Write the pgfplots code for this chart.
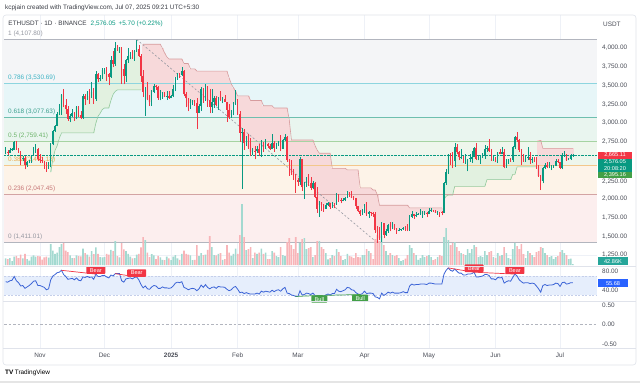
\documentclass[border=0pt]{standalone}
\usepackage{pgfplots}
\pgfplotsset{compat=1.18}
\usepackage{pgfplotstable}
\usepackage{fontspec}
\setmainfont{Liberation Sans}
\definecolor{up}{HTML}{089981}
\definecolor{dn}{HTML}{F23645}
\definecolor{upv}{HTML}{A3D9D0}
\definecolor{dnv}{HTML}{F8B4B8}
\definecolor{stg}{HTML}{E2F1E0}
\definecolor{str}{HTML}{F7D9DA}
\definecolor{stgl}{HTML}{92C99B}
\definecolor{strl}{HTML}{D69C9E}
\definecolor{rsib}{HTML}{3B63D6}
\definecolor{rsiband}{HTML}{E6EEFC}
\definecolor{rsibl}{HTML}{C5CFEA}
\definecolor{gridc}{HTML}{EEF1F7}
\definecolor{txt}{HTML}{4A4D57}
\definecolor{frame}{HTML}{E0E3EB}
\definecolor{fbA}{HTML}{F4F5F7}
\definecolor{fbB}{HTML}{E7F6F8}
\definecolor{fbC}{HTML}{E9F5EF}
\definecolor{fbD}{HTML}{EEF6EC}
\definecolor{fbE}{HTML}{FDF3E8}
\definecolor{fbF}{HTML}{FCEEEE}
\definecolor{flA}{HTML}{B2B5BE}
\definecolor{flB}{HTML}{8DD5DF}
\definecolor{flC}{HTML}{6EBFAF}
\definecolor{flD}{HTML}{A6D3A2}
\definecolor{flE}{HTML}{F3C78B}
\definecolor{flF}{HTML}{D3A3A3}
\definecolor{tA}{HTML}{9598A1}
\definecolor{tB}{HTML}{3DB3C4}
\definecolor{tC}{HTML}{3A9F8C}
\definecolor{tD}{HTML}{6DB46B}
\definecolor{tE}{HTML}{EDAA4E}
\definecolor{tF}{HTML}{C77676}
\definecolor{bxg}{HTML}{43A047}
\definecolor{bxb}{HTML}{2962FF}
\definecolor{bxv}{HTML}{26A69A}
\definecolor{hdr}{HTML}{3A3D45}
\newcommand\tvf{\fontsize{6.4bp}{7.6bp}\selectfont}
\newcommand\tvs{\fontsize{5.6bp}{6.6bp}\selectfont}

\pgfplotstableread{
d o h l c v r st dir
-16 2606 2689 2586 2611 330 58 0 0
-15 2611 2642 2578 2604 290 57 0 0
-14 2604 2675 2597 2642 340 60 0 0
-13 2642 2665 2630 2648 200 61 0 0
-12 2648 2760 2641 2747 420 69 0 0
-11 2747 2769 2645 2667 460 60 0 0
-10 2667 2673 2604 2621 350 56 0 0
-9 2621 2625 2438 2524 520 49 0 0
-8 2524 2557 2493 2535 330 50 0 0
-7 2535 2562 2386 2440 560 44 0 0
-6 2440 2491 2423 2478 300 47 0 0
-5 2478 2510 2466 2508 220 50 0 0
-4 2508 2575 2468 2567 420 54 0 0
-3 2567 2680 2566 2638 480 59 0 0
-2 2638 2722 2603 2659 420 60 0 0
-1 2659 2666 2502 2518 450 50 0 0
0 2518 2588 2470 2513 430 50 0 0
1 2513 2548 2469 2491 270 48 0 0
2 2491 2495 2388 2458 380 46 0 0
3 2458 2486 2357 2397 420 41 0 0
4 2397 2478 2392 2421 370 43 0 0
5 2421 2736 2414 2722 1050 62 2350 1
6 2722 2907 2704 2895 720 70 2520 1
7 2895 2976 2880 2962 560 73 2640 1
8 2962 3148 2955 3126 620 77 2700 1
9 3126 3249 3110 3183 900 78 2800 1
10 3183 3380 3113 3371 1050 82 2870 1
11 3371 3446 3212 3244 1100 73 2870 1
12 3244 3325 3122 3186 720 69 2870 1
13 3186 3228 3032 3058 640 63 2870 1
14 3058 3116 3009 3091 480 64 2870 1
15 3091 3185 3083 3132 350 65 2870 1
16 3132 3149 3031 3075 340 62 2870 1
17 3075 3220 3050 3209 480 66 2870 1
18 3209 3223 3075 3105 450 61 2870 1
19 3105 3160 3053 3072 430 60 2870 1
20 3072 3383 3052 3356 820 68 2870 1
21 3356 3382 3246 3326 600 67 2870 1
22 3326 3428 3304 3393 520 69 2870 1
23 3393 3447 3259 3361 420 67 2870 1
24 3361 3540 3339 3414 700 68 2870 1
25 3414 3469 3250 3325 540 63 2870 1
26 3325 3688 3297 3654 880 74 3000 1
27 3654 3663 3540 3582 560 69 3090 1
28 3582 3643 3554 3592 400 69 3130 1
29 3592 3736 3580 3703 380 71 3180 1
30 3703 3727 3647 3708 400 71 3200 1
31 3708 3748 3557 3646 560 68 3200 1
32 3646 3666 3500 3614 520 66 3200 1
33 3614 3890 3600 3837 760 72 3300 1
34 3837 3954 3740 3786 700 70 3380 1
35 3786 4080 3760 3998 1200 75 3420 1
36 3998 4030 3960 3997 440 75 3440 1
37 3997 4010 3935 4005 380 75 3440 1
38 4005 4015 3520 3712 1100 60 3440 1
39 3712 3784 3515 3630 780 57 3440 1
40 3630 3845 3550 3834 700 64 3440 1
41 3834 3995 3800 3884 560 65 3440 1
42 3884 3940 3845 3909 420 66 3440 1
43 3909 3963 3852 3871 330 64 3440 1
44 3871 3970 3830 3957 350 67 3440 1
45 3957 4107.8 3947 3987 520 68 3440 1
46 3987 4036 3880 3890 560 62 3440 1
47 3890 3920 3550 3624 880 52 3440 1
48 3624 3710 3345 3417 1400 45 4045 -1
49 3417 3485 3098 3478 1250 49 4045 -1
50 3478 3550 3300 3318 620 43 4045 -1
51 3318 3368 3225 3277 400 42 4045 -1
52 3277 3441 3225 3418 540 47 4045 -1
53 3418 3515 3395 3493 480 50 4045 -1
54 3493 3505 3440 3477 300 49 4045 -1
55 3477 3493 3310 3331 460 44 4045 -1
56 3331 3440 3300 3332 380 44 4045 -1
57 3332 3418 3325 3399 260 47 3990 -1
58 3399 3410 3340 3350 250 45 3930 -1
59 3350 3428 3310 3358 420 45 3880 -1
60 3358 3428 3320 3332 330 44 3850 -1
61 3332 3379 3328 3353 250 45 3850 -1
62 3353 3500 3345 3452 420 49 3850 -1
63 3452 3612 3425 3605 500 55 3850 -1
64 3605 3670 3575 3657 330 57 3850 -1
65 3657 3665 3601 3634 260 56 3850 -1
66 3634 3745 3620 3687 560 58 3850 -1
67 3687 3700 3355 3381 720 46 3790 -1
68 3381 3412 3207 3327 560 44 3790 -1
69 3327 3335 3156 3220 520 41 3790 -1
70 3220 3322 3190 3268 480 43 3720 -1
71 3268 3305 3234 3283 250 44 3720 -1
72 3283 3300 3230 3266 260 43 3720 -1
73 3266 3330 2920 3137 1000 39 3690 -1
74 3137 3258 3130 3224 450 43 3690 -1
75 3224 3475 3160 3451 600 51 3690 -1
76 3451 3461 3265 3308 500 46 3690 -1
77 3308 3525 3298 3474 520 52 3690 -1
78 3474 3494 3215 3306 760 46 3690 -1
79 3306 3449 3130 3215 1450 43 3690 -1
80 3215 3453 3140 3285 900 46 3690 -1
81 3285 3362 3205 3330 500 47 3690 -1
82 3330 3360 3222 3241 480 44 3690 -1
83 3241 3347 3180 3338 560 48 3690 -1
84 3338 3428 3290 3309 600 47 3690 -1
85 3309 3348 3260 3318 260 47 3690 -1
86 3318 3371 3280 3285 300 46 3690 -1
87 3285 3285 3020 3180 1000 42 3690 -1
88 3180 3255 3055 3076 620 39 3600 -1
89 3076 3170 3065 3113 460 41 3520 -1
90 3113 3283 3103 3249 560 46 3470 -1
91 3249 3437 3246 3300 820 48 3420 -1
92 3300 3320 3105 3120 560 42 3360 -1
93 3120 3160 2755 2870 1500 35 3360 -1
94 2870 2935 2125 2880 3050 36 3360 -1
95 2880 2915 2645 2731 1400 33 3360 -1
96 2731 2826 2700 2785 750 35 3360 -1
97 2785 2856 2660 2689 800 33 3360 -1
98 2689 2797 2560 2622 900 32 3300 -1
99 2622 2668 2580 2632 350 32 3300 -1
100 2632 2698 2520 2627 620 32 3300 -1
101 2627 2700 2600 2662 560 34 3300 -1
102 2662 2716 2570 2600 620 32 3300 -1
103 2600 2775 2550 2739 820 38 3300 -1
104 2739 2745 2615 2680 560 36 3230 -1
105 2680 2790 2660 2725 620 38 3230 -1
106 2725 2735 2665 2690 300 37 3230 -1
107 2690 2720 2645 2660 300 36 3230 -1
108 2660 2850 2650 2740 700 40 3230 -1
109 2740 2765 2620 2670 620 37 3200 -1
110 2670 2740 2662 2720 450 40 3200 -1
111 2720 2765 2690 2740 400 41 3200 -1
112 2740 2845 2625 2660 900 38 3200 -1
113 2660 2785 2655 2770 500 43 3200 -1
114 2770 2855 2760 2820 450 46 3200 -1
115 2820 2830 2490 2510 1150 34 3200 -1
116 2510 2525 2300 2490 1350 33 3040 -1
117 2490 2505 2310 2340 1000 30 2776 -1
118 2340 2395 2250 2310 800 29 2776 -1
119 2310 2320 2075 2240 1400 27 2776 -1
120 2240 2275 2170 2220 600 27 2776 -1
121 2220 2550 2175 2520 1100 39 2776 -1
122 2520 2525 2100 2150 1300 30 2776 -1
123 2150 2225 1995 2170 1350 31 2776 -1
124 2170 2280 2150 2240 800 34 2776 -1
125 2240 2320 2160 2200 850 33 2776 -1
126 2200 2290 2110 2140 900 31 2776 -1
127 2140 2230 2130 2200 400 34 2776 -1
128 2200 2215 2000 2020 500 29 2700 -1
129 2020 2150 1810 1865 1200 25 2640 -1
130 1865 1965 1755 1920 1200 29 2600 -1
131 1920 1955 1830 1910 900 29 2600 -1
132 1910 1925 1825 1865 800 27 2600 -1
133 1865 1935 1860 1910 600 30 2600 -1
134 1910 1950 1900 1935 280 32 2600 -1
135 1935 1940 1865 1890 350 30 2600 -1
136 1890 1955 1880 1930 500 33 2400 -1
137 1930 1935 1870 1928 450 33 2400 -1
138 1928 2070 1915 2055 800 42 2400 -1
139 2055 2060 1950 1980 650 38 2400 -1
140 1980 2000 1935 1965 450 37 2400 -1
141 1965 2000 1960 1985 250 39 2400 -1
142 1985 2015 1965 2010 300 41 2400 -1
143 2010 2105 2000 2080 560 46 2380 -1
144 2080 2085 2020 2065 450 45 2380 -1
145 2065 2100 2000 2010 420 41 2380 -1
146 2010 2030 1975 2000 350 40 2380 -1
147 2000 2005 1860 1895 600 35 2380 -1
148 1895 1905 1815 1830 400 32 2380 -1
149 1830 1850 1770 1800 380 31 2140 -1
150 1800 1860 1780 1820 500 33 2140 -1
151 1820 1930 1810 1905 500 38 2140 -1
152 1905 1950 1770 1795 800 33 2140 -1
153 1795 1830 1745 1815 700 34 2140 -1
154 1815 1825 1765 1805 600 34 2140 -1
155 1805 1815 1760 1790 300 33 2113 -1
156 1790 1815 1540 1580 1300 26 2113 -1
157 1580 1640 1411.01 1550 1500 25 2046 -1
158 1550 1620 1455 1470 1200 22 1910 -1
159 1470 1690 1420 1670 1450 34 1910 -1
160 1670 1675 1470 1520 1000 29 1910 -1
161 1520 1590 1505 1565 700 32 1910 -1
162 1565 1655 1545 1645 500 36 1910 -1
163 1645 1690 1565 1595 600 34 1910 -1
164 1595 1690 1590 1625 500 36 1910 -1
165 1625 1660 1580 1590 450 34 1910 -1
166 1590 1615 1535 1575 500 34 1910 -1
167 1575 1610 1565 1585 350 34 1910 -1
168 1585 1595 1570 1590 200 35 1910 -1
169 1590 1625 1580 1615 250 37 1910 -1
170 1615 1640 1570 1590 320 35 1910 -1
171 1590 1660 1565 1580 500 35 1910 -1
172 1580 1785 1570 1755 1000 49 1875 -1
173 1755 1830 1745 1795 850 53 1875 -1
174 1795 1800 1730 1770 600 51 1875 -1
175 1770 1825 1750 1785 500 52 1875 -1
176 1785 1805 1780 1790 260 52 1875 -1
177 1790 1855 1785 1795 350 53 1875 -1
178 1795 1830 1745 1800 500 53 1875 -1
179 1800 1840 1785 1800 400 53 1875 -1
180 1800 1820 1750 1795 450 52 1875 -1
181 1795 1875 1790 1840 500 55 1875 -1
182 1840 1870 1825 1840 400 55 1875 -1
183 1840 1845 1825 1830 250 54 1875 -1
184 1830 1850 1805 1810 300 53 1875 -1
185 1810 1835 1785 1820 400 53 1875 -1
186 1820 1825 1755 1815 500 53 1875 -1
187 1815 1830 1775 1810 450 53 1875 -1
188 1810 2215 1805 2205 1400 74 1990 1
189 2205 2390 2185 2345 1850 82 2030 1
190 2345 2590 2330 2585 1250 87 2045 1
191 2585 2600 2450 2515 1000 82 2045 1
192 2515 2615 2400 2495 1100 80 2045 1
193 2495 2740 2420 2680 1150 85 2160 1
194 2680 2725 2590 2610 900 80 2160 1
195 2610 2625 2505 2545 700 76 2160 1
196 2545 2650 2530 2550 600 76 2160 1
197 2550 2560 2470 2480 550 72 2160 1
198 2480 2590 2460 2485 500 72 2160 1
199 2485 2510 2360 2525 800 74 2160 1
200 2525 2590 2485 2525 600 74 2160 1
201 2525 2630 2470 2550 800 75 2160 1
202 2550 2680 2545 2665 1000 78 2160 1
203 2665 2735 2510 2525 900 68 2160 1
204 2525 2575 2505 2530 400 68 2160 1
205 2530 2560 2460 2550 450 69 2160 1
206 2550 2600 2535 2565 400 70 2160 1
207 2565 2715 2530 2660 700 73 2160 1
208 2660 2690 2620 2665 500 73 2250 1
209 2665 2790 2620 2630 650 71 2250 1
210 2630 2650 2500 2530 700 64 2250 1
211 2530 2560 2500 2530 400 64 2250 1
212 2530 2545 2480 2510 350 62 2250 1
213 2510 2615 2470 2610 600 67 2250 1
214 2610 2660 2590 2595 450 66 2250 1
215 2595 2680 2585 2610 500 67 2250 1
216 2610 2660 2400 2420 900 55 2250 1
217 2420 2525 2410 2475 600 58 2250 1
218 2475 2530 2460 2520 350 60 2250 1
219 2520 2535 2485 2510 300 59 2250 1
220 2510 2690 2490 2680 800 67 2320 1
221 2680 2830 2650 2815 1100 74 2320 1
222 2815 2880 2750 2770 950 70 2420 1
223 2770 2785 2620 2645 800 62 2420 1
224 2645 2650 2440 2575 1050 58 2420 1
225 2575 2590 2490 2525 550 55 2420 1
226 2525 2560 2490 2540 350 56 2420 1
227 2540 2680 2510 2545 700 56 2420 1
228 2545 2610 2460 2510 600 54 2420 1
229 2510 2555 2465 2525 500 55 2420 1
230 2525 2545 2490 2520 400 54 2420 1
231 2520 2555 2395 2435 650 49 2420 1
232 2435 2440 2290 2300 700 43 2770 -1
233 2300 2310 2110 2230 900 36 2770 -1
234 2230 2420 2200 2410 850 50 2665.11 -1
235 2410 2465 2385 2445 600 52 2665.11 -1
236 2445 2480 2400 2415 500 50 2665.11 -1
237 2415 2485 2400 2420 400 51 2665.11 -1
238 2420 2445 2375 2425 450 51 2665.11 -1
239 2425 2445 2410 2435 300 52 2665.11 -1
240 2435 2520 2425 2500 400 55 2665.11 -1
241 2500 2520 2465 2485 450 54 2665.11 -1
242 2485 2490 2390 2405 650 48 2665.11 -1
243 2405 2600 2385 2570 750 56 2665.11 -1
244 2570 2635 2555 2590 600 57 2665.11 -1
245 2590 2595 2500 2515 500 53 2665.11 -1
246 2515 2535 2505 2520 300 54 2665.11 -1
247 2520 2585 2510 2570 320 56 2665.11 -1
248 2570 2585 2555 2576.05 43 56 2665.11 -1
}\data

\pgfplotsset{
  tvbase/.style={scale only axis, width=593bp, xmin=-16.75, xmax=259.2,
    xtick={0,30,61,92,120,151,181,212,242}, xticklabels={},
    axis line style={draw=none}, tick style={draw=none}, major tick length=0pt,
    grid style={gridc, line width=0.5bp}, xmajorgrids,
    tick label style={font=\tvf, text=txt},
    yticklabel pos=right,
    yticklabel style={anchor=west, inner sep=0pt, xshift=5bp,
      /pgf/number format/fixed, /pgf/number format/fixed zerofill,
      /pgf/number format/precision=2, /pgf/number format/1000 sep={,},
      /pgf/number format/assume math mode=true}},
  pricebase/.style={tvbase, at={(4bp,117bp)}, anchor=south west, height=251bp,
    ymin=1104.4, ymax=4433.7},
  ebar/.style={draw=none, mark=none, forget plot, error bars/.cd, y dir=plus, y explicit,
    error mark=none, error bar style={draw=#1}},
}

\begin{document}
\begin{tikzpicture}[x=1bp,y=1bp]
\fill[white] (0,0) rectangle (640,383);
\path[use as bounding box] (0,0) rectangle (640,383);

% ---------- price background, fib, supertrend ----------
\begin{axis}[pricebase, ytick={1250,1500,1750,2000,2750,3000,3250,3500,3750,4000}, ymajorgrids,
  extra y ticks={2250,2500}, extra y tick labels={}, extra y tick style={grid=major}]
\fill[fbA] (axis cs:-16.75,4107.8) rectangle (axis cs:259.2,3530.69);
\fill[fbB] (axis cs:-16.75,3530.69) rectangle (axis cs:259.2,3077.63);
\fill[fbC] (axis cs:-16.75,3077.63) rectangle (axis cs:259.2,2759.41);
\fill[fbD] (axis cs:-16.75,2759.41) rectangle (axis cs:259.2,2441.18);
\fill[fbE] (axis cs:-16.75,2441.18) rectangle (axis cs:259.2,2047.45);
\fill[fbF] (axis cs:-16.75,2047.45) rectangle (axis cs:259.2,1411.01);
% supertrend fills
\addplot[ebar=stg, error bar style={line width=2.3bp}]
  table[x=d, y expr={\thisrow{dir}>0 ? \thisrow{st} : nan}, y error plus expr={\thisrow{c}-\thisrow{st}}] {\data};
\addplot[ebar=str, error bar style={line width=2.3bp}]
  table[x=d, y expr={\thisrow{dir}<0 ? \thisrow{c} : nan}, y error plus expr={\thisrow{st}-\thisrow{c}}] {\data};
% fib lines
\addplot[flA, line width=0.7bp] coordinates {(-16.75,4107.8) (259.2,4107.8)};
\addplot[flB, line width=0.7bp] coordinates {(-16.75,3530.69) (259.2,3530.69)};
\addplot[flC, line width=0.7bp] coordinates {(-16.75,3077.63) (259.2,3077.63)};
\addplot[flD, line width=0.7bp] coordinates {(-16.75,2759.41) (259.2,2759.41)};
\addplot[flE, line width=0.7bp] coordinates {(-16.75,2441.18) (259.2,2441.18)};
\addplot[flF, line width=1.1bp] coordinates {(-16.75,2047.45) (259.2,2047.45)};
\addplot[flA, line width=0.8bp] coordinates {(-16.75,1411.01) (259.2,1411.01)};
\node[anchor=south west, inner sep=0pt, text=tA, font=\tvf, yshift=2.5bp] at (axis cs:-14.9,4107.8) {1 (4,107.80)};
\node[anchor=south west, inner sep=0pt, text=tB, font=\tvf, yshift=2.5bp] at (axis cs:-14.9,3530.69) {0.786 (3,530.69)};
\node[anchor=south west, inner sep=0pt, text=tC, font=\tvf, yshift=2.5bp] at (axis cs:-14.9,3077.63) {0.618 (3,077.63)};
\node[anchor=south west, inner sep=0pt, text=tD, font=\tvf, yshift=2.5bp] at (axis cs:-14.9,2759.41) {0.5 (2,759.41)};
\node[anchor=south west, inner sep=0pt, text=tE, font=\tvf, yshift=2.5bp] at (axis cs:-14.9,2441.18) {0.382 (2,441.18)};
\node[anchor=south west, inner sep=0pt, text=tF, font=\tvf, yshift=2.5bp] at (axis cs:-14.9,2047.45) {0.236 (2,047.45)};
\node[anchor=south west, inner sep=0pt, text=tA, font=\tvf, yshift=2.5bp] at (axis cs:-14.9,1411.01) {0 (1,411.01)};
% supertrend lines
\addplot[stgl, line width=0.6bp, unbounded coords=jump] table[x=d, y expr={\thisrow{dir}>0 ? \thisrow{st} : nan}] {\data};
\addplot[strl, line width=0.6bp, unbounded coords=jump] table[x=d, y expr={\thisrow{dir}<0 ? \thisrow{st} : nan}] {\data};
% fib trend line and last price line
\addplot[tA, line width=0.6bp, dash pattern=on 2bp off 2bp] coordinates {(45,4107.8) (157,1411.01)};
\addplot[up, line width=0.4bp, densely dotted] coordinates {(-16.75,2576.05) (259.2,2576.05)};
\end{axis}

% ---------- volume ----------
\begin{axis}[tvbase, hide axis, at={(4bp,118bp)}, anchor=south west, height=65bp, ymin=0, ymax=3250]
\addplot[ybar, bar width=1.6bp, bar shift=0pt, fill=upv, draw=none]
  table[x=d, y expr={\thisrow{c}>=\thisrow{o} ? \thisrow{v} : nan}] {\data};
\addplot[ybar, bar width=1.6bp, bar shift=0pt, fill=dnv, draw=none]
  table[x=d, y expr={\thisrow{c}<\thisrow{o} ? \thisrow{v} : nan}] {\data};
\end{axis}

% ---------- candles ----------
\begin{axis}[pricebase, hide axis]
\addplot[ebar=up, error bar style={line width=0.5bp}]
  table[x=d, y expr={\thisrow{c}>=\thisrow{o} ? \thisrow{l} : nan}, y error plus expr={\thisrow{h}-\thisrow{l}}] {\data};
\addplot[ebar=dn, error bar style={line width=0.5bp}]
  table[x=d, y expr={\thisrow{c}<\thisrow{o} ? \thisrow{l} : nan}, y error plus expr={\thisrow{h}-\thisrow{l}}] {\data};
\addplot[ebar=up, error bar style={line width=1.5bp}]
  table[x=d, y expr={\thisrow{c}>=\thisrow{o} ? \thisrow{o} : nan}, y error plus expr={max(\thisrow{c}-\thisrow{o},8)}] {\data};
\addplot[ebar=dn, error bar style={line width=1.5bp}]
  table[x=d, y expr={\thisrow{c}<\thisrow{o} ? \thisrow{c} : nan}, y error plus expr={max(\thisrow{o}-\thisrow{c},8)}] {\data};
\end{axis}

% ---------- empty third pane with time axis ----------
\begin{axis}[tvbase, at={(4bp,35bp)}, anchor=south west, height=47bp, ymin=-0.6, ymax=0.6,
  ytick={-0.5,0,0.5},
  xticklabels={Nov,Dec,\textbf{2025},Feb,Mar,Apr,May,Jun,Jul},
  xticklabel style={anchor=north, inner sep=0pt, yshift=-4.5bp}]
\addplot[flA, line width=0.5bp, dash pattern=on 2.5bp off 2bp] coordinates {(-16.75,0) (259.2,0)};
\end{axis}

% ---------- RSI ----------
\begin{axis}[tvbase, at={(4bp,82bp)}, anchor=south west, height=35bp, ymin=17.37, ymax=91.05,
  ytick={40,80}, clip=false]
\fill[rsiband] (axis cs:-16.75,70) rectangle (axis cs:259.2,30);
\addplot[rsibl, line width=0.4bp, dash pattern=on 2bp off 1.5bp] coordinates {(-16.75,70) (259.2,70)};
\addplot[rsibl, line width=0.4bp, dash pattern=on 2bp off 1.5bp] coordinates {(-16.75,30) (259.2,30)};
\addplot[rsib, line width=0.8bp] table[x=d, y=r] {\data};
% divergences
\addplot[dn, line width=0.7bp] coordinates {(10,82) (26,74)};
\addplot[dn, line width=0.7bp] coordinates {(35,75) (45,68)};
\addplot[dn, line width=0.7bp] coordinates {(190,87) (202,78)};
\addplot[dn, line width=0.7bp] coordinates {(202,78) (221,74)};
\addplot[bxg, line width=0.7bp] coordinates {(119,27) (130,29)};
\addplot[bxg, line width=0.7bp] coordinates {(130,29) (149,31)};
\tikzset{bear/.style={fill=dn, text=white, font=\tvs, inner sep=0pt, minimum width=19bp, minimum height=7.5bp, rounded corners=0.8bp, anchor=south},
         bull/.style={fill=bxg, text=white, font=\tvs, inner sep=0pt, minimum width=16bp, minimum height=7bp, rounded corners=0.8bp, anchor=north}}
\node[bear] at (axis cs:26,74) {Bear};
\node[bear] at (axis cs:45,68) {Bear};
\node[bear] at (axis cs:202,78) {Bear};
\node[bear] at (axis cs:221,74) {Bear};
\node[bull] at (axis cs:130,29) {Bull};
\node[bull] at (axis cs:149,31) {Bull};
\end{axis}

% ---------- frame and separators ----------
\draw[frame, line width=0.6bp, rounded corners=3bp] (3,18) rectangle (636,368);
\draw[frame, line width=0.5bp] (3,117) -- (636,117);
\draw[frame, line width=0.5bp] (3,82) -- (636,82);
\draw[frame, line width=0.5bp] (3,35) -- (636,35);

% ---------- header ----------
\node[anchor=west, inner sep=0pt, text=hdr] at (5,375) {\tvf kcpjain created with TradingView.com, Jul 07, 2025 09:21 UTC+5:30};
\node[anchor=west, inner sep=0pt, text=hdr] at (8.3,359) {\tvf ETHUSDT · 1D · BINANCE\hspace{4bp}\textcolor{up}{2,576.05\hspace{3bp}+5.70 (+0.22\%)}};
\node[anchor=west, inner sep=0pt, text=txt] at (603,359) {\tvf USDT};

% ---------- price scale boxes ----------
\node[anchor=west, inner sep=0pt, text=txt] at (602,201.8) {\tvf 2,250.00};
\fill[dn] (598,224.5) rectangle (632,231.5);
\node[text=white, inner sep=0pt] at (615,228) {\tvs 2,665.11};
\fill[up] (598,211) rectangle (632,224.5);
\node[text=white, inner sep=0pt] at (615,221.1) {\tvs 2,576.05};
\node[text=white, inner sep=0pt] at (615,214.4) {\tvs 20:08:20};
\fill[bxg] (598,204.8) rectangle (632,211);
\node[text=white, inner sep=0pt] at (615,207.9) {\tvs 2,395.16};
\fill[bxv] (598,118.2) rectangle (628,125.6);
\node[text=white, inner sep=0pt] at (613,121.9) {\tvs 42.86K};
\fill[bxb] (598,95.7) rectangle (628,103.7);
\node[text=white, inner sep=0pt] at (613,99.7) {\tvs 55.68};

% ---------- footer ----------
\node[anchor=west, inner sep=0pt, text=black] at (5,10) {\tvf\textbf{TV}\hspace{1.5bp}TradingView};
\fill[black!10] (0,0) rectangle (640,2.5);
\end{tikzpicture}
\end{document}
